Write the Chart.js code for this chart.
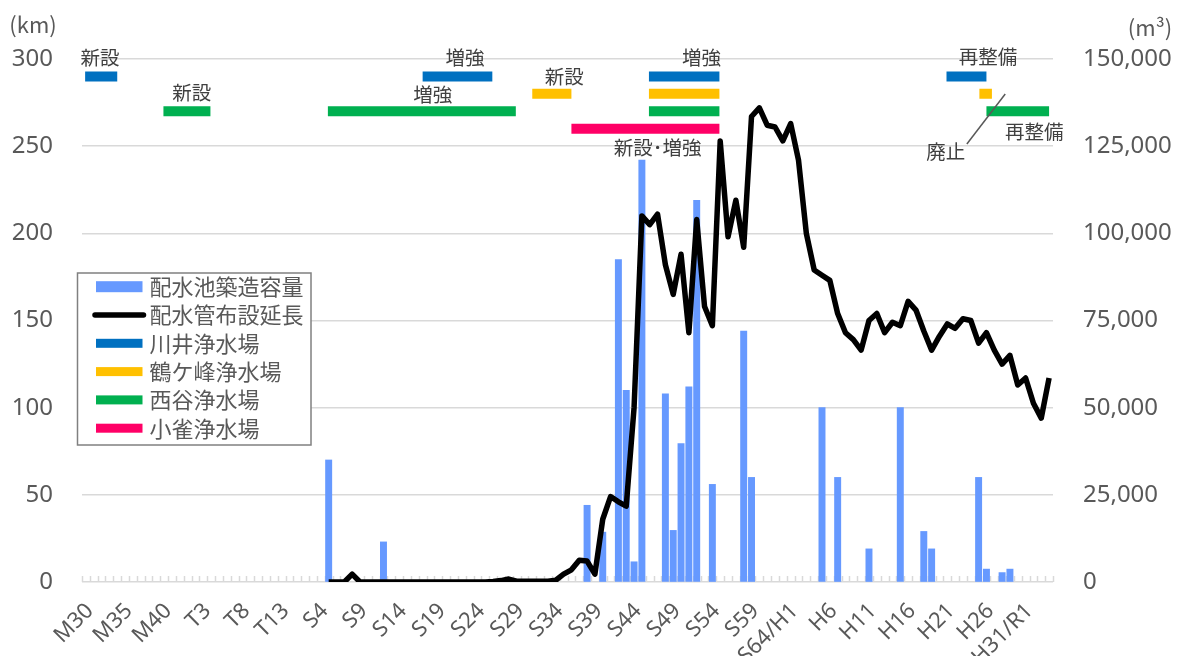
<!DOCTYPE html>
<html><head><meta charset="utf-8">
<script src="https://cdn.jsdelivr.net/npm/chart.js@4.4.1/dist/chart.umd.min.js"></script>
<style>html,body{margin:0;padding:0;background:#fff}canvas{display:block}</style>
</head><body>
<canvas id="c" width="1179" height="656"></canvas>
<script>
// ---- categories (one per year; label every 5th) ----
const categories = [
 'M30','M31','M32','M33','M34','M35','M36','M37','M38','M39','M40','M41','M42','M43','M44',
 'T3','T4','T5','T6','T7','T8','T9','T10','T11','T12','T13','T14','T15/S1',
 'S2','S3','S4','S5','S6','S7','S8','S9','S10','S11','S12','S13','S14','S15','S16','S17','S18','S19','S20',
 'S21','S22','S23','S24','S25','S26','S27','S28','S29','S30','S31','S32','S33','S34','S35','S36','S37','S38',
 'S39','S40','S41','S42','S43','S44','S45','S46','S47','S48','S49','S50','S51','S52','S53','S54','S55','S56',
 'S57','S58','S59','S60','S61','S62','S63','S64/H1',
 'H2','H3','H4','H5','H6','H7','H8','H9','H10','H11','H12','H13','H14','H15','H16','H17','H18','H19','H20',
 'H21','H22','H23','H24','H25','H26','H27','H28','H29','H30','H31/R1','R2','R3','R4'
];

// ---- 配水池築造容量 (m3), right axis ----
const reservoirYears = ['S5','S12','S38','S40','S42','S43','S44','S45','S48','S49','S50','S51','S52','S54','S58','S59','H5','H7','H11','H15','H18','H19','H25','H26','H28','H29'];
const reservoirCapacity = [35000,11500,22000,14300,92500,55000,5800,121000,54000,14800,39700,56000,109500,28000,72000,30000,50000,30000,9500,50000,14500,9500,30000,3700,2700,3700];

// ---- 配水管布設延長 (km), left axis, yearly from pipeFrom ----
const pipeFrom = 'S5';
const pipeLength = [
 0,0,0,4.5,0,0,0,0,0,0,0,0,0,0,0,0,0,0,0,0,0,0.3,0.8,1.7,0.5,0.5,0.5,0.5,0.5,
 1,4.5,7,12.5,12,4.5,36,49,46,43.5,100,210,205,211,182,165,188,143,208,158,147,
 253,198,219,192,267,272,262,261,253,263,242,200,179,176,173,154,143,139,133,
 150,154,143,149,147,161,156,144,133,141,148,145.5,151,150,137,143,133,125,130,
 113,117,102.5,94,117
];

// ---- 浄水場 timelines: spans in category-index units ----
const plantNames = ['川井浄水場','鶴ケ峰浄水場','西谷浄水場','小雀浄水場'];
const plantColors = ['#0070C0','#FFC000','#00B050','#FF0066'];
const plantLevel = [290, 280, 270, 260];
const kawaiSpans = [[-0.1,4.0],[43.0,51.9],[71.9,80.9],[109.9,115.0]];
const tsurugamineSpans = [[57.0,62.0],[71.9,80.9],[114.1,115.7]];
const nishiyaSpans = [[9.9,15.9],[30.9,54.9],[71.9,80.9],[115.0,123.0]];
const kosuzumeSpans = [[62.0,80.9]];

// ---- annotation texts (x: category index, y: km) ----
const noteTexts = ['新設','新設','増強','増強','新設','増強','新設･増強','再整備','再整備','廃止'];
const noteX = [1.8,13.5,48.4,44.3,61.1,78.6,73.0,115.2,121.1,109.8];
const noteY = [300.6,280.8,301,279.4,290.1,301,249.2,301.3,258.3,246.8];
const leaderX = [112.5,117.4];
const leaderY = [251.2,279.9];

const leftTicks = [0,50,100,150,200,250,300];
const rightTicks = [0,25000,50000,75000,100000,125000,150000];

// ---- build ----
const FONT = '"Noto Sans", "Noto Sans CJK JP", sans-serif';
const JP = '"Noto Sans CJK JP", "Noto Sans", sans-serif';
Chart.defaults.font.family = FONT;

const barData = categories.map(c => { const k = reservoirYears.indexOf(c); return k >= 0 ? reservoirCapacity[k] : null; });
const p0 = categories.indexOf(pipeFrom);
const lineData = categories.map((c, i) => (i >= p0 && i - p0 < pipeLength.length) ? pipeLength[i - p0] : null);

function spanPoints(spans, level) {
  const pts = [];
  spans.forEach(([a, b], k) => {
    if (k) pts.push({x: (a + spans[k-1][1]) / 2, y: null});
    pts.push({x: a, y: level}, {x: b, y: level});
  });
  return pts;
}
const allSpans = [kawaiSpans, tsurugamineSpans, nishiyaSpans, kosuzumeSpans];
const ganttSets = allSpans.map((s, k) => ({
  type: 'line', label: plantNames[k], data: spanPoints(s, plantLevel[k]),
  xAxisID: 'xg', yAxisID: 'y', borderColor: plantColors[k], borderWidth: 10,
  borderCapStyle: 'butt', pointRadius: 0, spanGaps: false, order: 1
}));

const overlay = {
  id: 'overlay',
  beforeDatasetsDraw(chart) {
    const {ctx, chartArea: a} = chart;
    const w = (a.right - a.left) / categories.length;
    ctx.save();
    ctx.strokeStyle = '#d9d9d9'; ctx.lineWidth = 1.5;
    for (let i = 0; i <= categories.length; i++) {
      const px = Math.round(a.left + i * w) + 0.5;
      ctx.beginPath(); ctx.moveTo(px, a.bottom); ctx.lineTo(px, a.bottom - 6); ctx.stroke();
    }
    ctx.restore();
  },
  afterDatasetsDraw(chart) {
    const {ctx, chartArea: a, scales: {xg, y}} = chart;
    ctx.save();
    // annotations
    ctx.font = '19.5px ' + JP; ctx.fillStyle = '#404040';
    ctx.textAlign = 'center'; ctx.textBaseline = 'middle';
    noteTexts.forEach((t, k) => ctx.fillText(t, xg.getPixelForValue(noteX[k]), y.getPixelForValue(noteY[k])));
    ctx.strokeStyle = '#595959'; ctx.lineWidth = 1.5;
    ctx.beginPath();
    ctx.moveTo(xg.getPixelForValue(leaderX[0]), y.getPixelForValue(leaderY[0]));
    ctx.lineTo(xg.getPixelForValue(leaderX[1]), y.getPixelForValue(leaderY[1]));
    ctx.stroke();

    // axis titles
    ctx.fillStyle = '#595959'; ctx.font = '22px ' + JP;
    ctx.fillText('(km)', a.left - 49, a.top - 34);
    ctx.fillText('(m³)', a.right + 97, a.top - 31);

    // legend
    const L = a.left - 4.5, T = a.top + 214, R = a.left + 229, B = a.top + 386;
    ctx.fillStyle = '#ffffff'; ctx.fillRect(L, T, R - L, B - T);
    ctx.strokeStyle = '#808080'; ctx.lineWidth = 1.5; ctx.strokeRect(L, T, R - L, B - T);
    const names = ['配水池築造容量', '配水管布設延長'].concat(plantNames);
    const colors = ['#6699FF', '#000000'].concat(plantColors);
    const sx = a.left + 14, sw = 46.5, tx = a.left + 67.5;
    ctx.font = '22px ' + JP; ctx.textAlign = 'left'; ctx.textBaseline = 'middle';
    names.forEach((n, k) => {
      const cy = a.top + 227.7 + k * 28.3;
      if (k === 1) {
        ctx.strokeStyle = '#000'; ctx.lineWidth = 5.5; ctx.lineCap = 'round';
        ctx.beginPath(); ctx.moveTo(sx - 1, cy); ctx.lineTo(sx + sw + 1, cy); ctx.stroke();
      } else {
        ctx.fillStyle = colors[k];
        const h = k === 0 ? 11 : 9;
        ctx.fillRect(sx, cy - h / 2, sw, h);
      }
      ctx.fillStyle = '#595959';
      ctx.fillText(n, tx, cy);
    });
    ctx.restore();
  }
};

new Chart(document.getElementById('c'), {
  data: {
    labels: categories,
    datasets: [
      { type: 'line', label: '配水管布設延長', data: lineData, xAxisID: 'x', yAxisID: 'y',
        borderColor: '#000000', borderWidth: 5.5, pointRadius: 0, tension: 0,
        borderJoinStyle: 'round', borderCapStyle: 'butt', spanGaps: false, order: 0 },
      ...ganttSets,
      { type: 'bar', label: '配水池築造容量', data: barData, xAxisID: 'x', yAxisID: 'y1',
        backgroundColor: '#6699FF', grouped: false, barThickness: 6.3, order: 2 }
    ]
  },
  options: {
    responsive: false, animation: false, devicePixelRatio: 1,
    layout: { padding: { top: 59, left: 0, right: 0, bottom: 0 } },
    plugins: { legend: { display: false }, tooltip: { enabled: false } },
    scales: {
      x: {
        type: 'category', offset: true,
        grid: { display: false }, border: { display: false },
        ticks: {
          autoSkip: false, maxRotation: 45, minRotation: 45, padding: 8, labelOffset: 4,
          color: '#595959', font: { size: 22 },
          callback: (v, i) => (i % 5 === 0 ? categories[i] : null)
        },
        afterFit: s => { s.height = 74; }
      },
      xg: { type: 'linear', display: false, min: -0.5, max: categories.length - 0.5 },
      y: {
        position: 'left', min: 0, max: 300,
        afterBuildTicks: s => { s.ticks = leftTicks.map(v => ({value: v})); },
        ticks: { padding: 29, color: '#595959', font: { size: 24 } },
        grid: { color: '#d9d9d9', lineWidth: 1.5, drawTicks: false },
        border: { display: false },
        afterFit: s => { s.width = 82; }
      },
      y1: {
        position: 'right', min: 0, max: 150000,
        afterBuildTicks: s => { s.ticks = rightTicks.map(v => ({value: v})); },
        ticks: { padding: 30, color: '#595959', font: { size: 24 },
          callback: v => v.toLocaleString('en-US') },
        grid: { drawOnChartArea: false, drawTicks: false },
        border: { display: false },
        afterFit: s => { s.width = 126; }
      }
    }
  },
  plugins: [overlay]
});
</script>
</body></html>
